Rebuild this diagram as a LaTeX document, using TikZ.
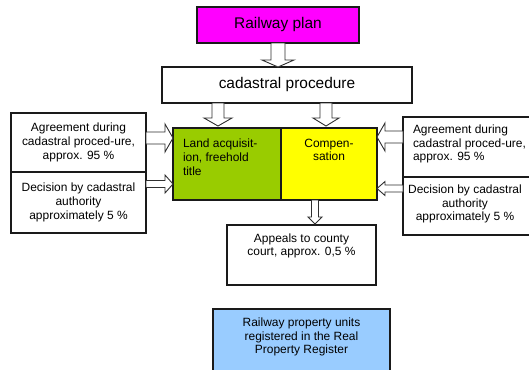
\documentclass[tikz,border=0pt]{standalone}
\usepackage{fontspec}
\setmainfont{Liberation Sans}
\usetikzlibrary{calc}
\definecolor{rmag}{HTML}{FF00FF}
\definecolor{rgreen}{HTML}{99CC00}
\definecolor{ryellow}{HTML}{FFFF00}
\definecolor{rblue}{HTML}{99CCFF}
\definecolor{arrgray}{HTML}{303030}
\definecolor{boxline}{HTML}{1A1A1A}
\newcommand\barrow[5]{%
  \coordinate (bh) at ($(#2)!#5!(#1)$);
  \draw[blockarr] ($(#1)!#3!90:(#2)$) -- ($(bh)!#3!-90:(#1)$) -- ($(bh)!#4!-90:(#1)$) -- (#2) -- ($(bh)!#4!90:(#1)$) -- ($(bh)!#3!90:(#1)$) -- ($(#1)!#3!-90:(#2)$) -- cycle;
}
\begin{document}
\begin{tikzpicture}[x=1bp,y=-1bp,
  box/.style={draw=boxline, line width=1.1bp, inner sep=0pt, outer sep=0pt, align=center,
    font=\fontsize{12}{13.8}\selectfont},
  bigbox/.style={box, font=\fontsize{15.5}{17}\selectfont},
  txt/.style={inner sep=0pt, outer sep=0pt, font=\fontsize{12}{13.8}\selectfont},
  blockarr/.style={draw=arrgray, fill=white, line width=0.9bp, line join=miter}]
\useasboundingbox (0,0) rectangle (529,369);
\fill[white] (0,0) rectangle (529,369);

\node[bigbox, fill=rmag, minimum width=162bp, minimum height=36bp] (rail) at (278,25) {Railway plan};
\node[bigbox, fill=white, minimum width=250bp, minimum height=36bp] (cad) at (287,85) {cadastral procedure};

\node[box, fill=rgreen, minimum width=108bp, minimum height=72bp] (green) at (227,164) {};
\node[box, fill=ryellow, minimum width=96bp, minimum height=72bp] (yellow) at (329,164) {};
\node[txt, anchor=west, align=left] (greent) at (183,157) {Land acquisit-\\ion, freehold\\title};
\node[txt, align=center] (yellowt) at (329,150) {Compen-\\sation};

\node[box, minimum width=135bp, minimum height=59bp] (lt) at (78.5,142.5) {Agreement during\\cadastral proced-ure,\\approx. 95 \%};
\node[box, minimum width=135bp, minimum height=61bp] (lb) at (78.5,202.5) {Decision by cadastral\\authority\\approximately 5 \%};

\node[box, minimum width=130bp, minimum height=60bp] (rt) at (468,147) {};
\node[txt, anchor=west, align=left] (rtt) at (413,144) {Agreement during\\cadastral proced-ure,\\approx. 95 \%};
\node[box, minimum width=130bp, minimum height=58bp] (rb) at (468,206) {};
\node[txt, align=center] (rbt) at (465,204) {Decision by cadastral\\authority\\approximately 5 \%};

\node[box, minimum width=149bp, minimum height=60bp] (app) at (301.5,255) {};
\node[txt, align=center] (appt) at (301.5,246) {Appeals to county\\court, approx. 0,5 \%};

\node[box, fill=rblue, minimum width=177bp, minimum height=62bp] (blue) at (301.5,340) {};
\node[txt, align=center] (bluet) at (301.5,337) {Railway property units\\registered in the Real\\Property Register};

% block arrows
\coordinate (a1s) at (rail.south);
\coordinate (a1e) at (a1s |- cad.north);
\barrow{a1s}{a1e}{7bp}{16bp}{7bp}

\coordinate (a2s) at ([xshift=-69bp]cad.south);
\coordinate (a2e) at ([yshift=2bp]a2s |- green.north);
\barrow{a2s}{a2e}{6bp}{14bp}{8bp}

\coordinate (a3s) at ([xshift=39bp]cad.south);
\coordinate (a3e) at ([yshift=2bp]a3s |- yellow.north);
\barrow{a3s}{a3e}{6bp}{13bp}{8bp}

\coordinate (a4s) at ([yshift=4.5bp]lt.east);
\coordinate (a4e) at (a4s -| green.west);
\barrow{a4s}{a4e}{6bp}{14bp}{8bp}

\coordinate (a5s) at ([yshift=18.5bp]lb.east);
\coordinate (a5e) at (a5s -| green.west);
\barrow{a5s}{a5e}{3.5bp}{9bp}{8bp}

\coordinate (a6s) at ([yshift=10bp]rt.west);
\coordinate (a6e) at (a6s -| yellow.east);
\barrow{a6s}{a6e}{6bp}{14bp}{8bp}

\coordinate (a7s) at ([yshift=17.5bp]rb.west);
\coordinate (a7e) at (a7s -| yellow.east);
\barrow{a7s}{a7e}{3.5bp}{7bp}{8bp}

\coordinate (a8s) at ([xshift=-14bp]yellow.south);
\coordinate (a8e) at ([yshift=1bp]a8s |- app.north);
\barrow{a8s}{a8e}{3.5bp}{7bp}{7bp}
\end{tikzpicture}
\end{document}
